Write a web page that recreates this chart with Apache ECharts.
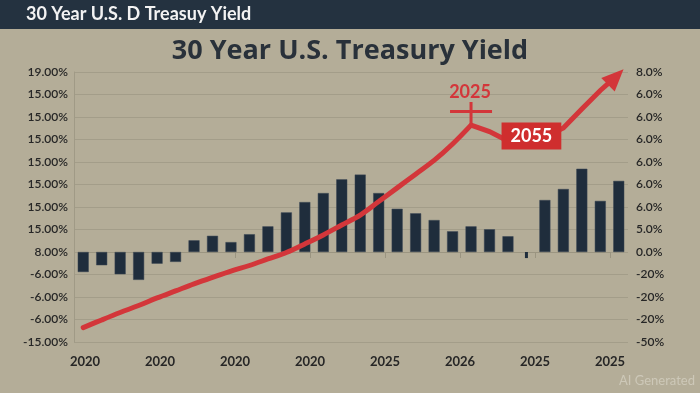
<!DOCTYPE html>
<html><head><meta charset="utf-8">
<script src="https://cdn.jsdelivr.net/npm/echarts@6/dist/echarts.min.js"></script>
<style>html,body{margin:0;padding:0;background:#b4ad98;}#c{width:700px;height:393px;}</style>
</head><body><div id="c"></div>
<script>
const headerText = '30 Year U.S. D Treasuy Yield';
const titleText = '30 Year U.S. Treasury Yield';
const watermarkText = 'AI Generated';
// tick labels, bottom to top
const leftTicks = ['-15.00%','-6.00%','-6.00%','-6.00%','8.00%','15.00%','15.00%','15.00%','15.00%','15.00%','15.00%','15.00%','19.00%'];
const rightTicks = ['-50%','-20%','-20%','-20%','0.0%','5.0%','6.0%','6.0%','6.0%','6.0%','6.0%','6.0%','8.0%'];
const xLabels = ['2020','2020','2020','2020','2025','2026','2025','2025'];
const categories = ['c1','c2','c3','c4','c5','c6','c7','c8','c9','c10','c11','c12','c13','c14','c15','c16','c17','c18','c19','c20','c21','c22','c23','c24','c25','c26','c27','c28','c29','c30'];
const barValues = [-0.89,-0.59,-0.99,-1.24,-0.52,-0.44,0.52,0.72,0.44,0.79,1.14,1.76,2.22,2.62,3.23,3.44,2.62,1.92,1.72,1.42,0.92,1.14,1.01,0.70,null,2.31,2.80,3.70,2.27,3.16];
const thinBarValues = [null,null,null,null,null,null,null,null,null,null,null,null,null,null,null,null,null,null,null,null,null,null,null,null,-0.27,null,null,null,null,null];
const lineValues = [-3.36,-3.02,-2.69,-2.38,-2.04,-1.73,-1.42,-1.13,-0.85,-0.60,-0.31,-0.02,0.36,0.76,1.20,1.64,2.24,2.85,3.46,4.07,4.80,5.64,5.35,4.93,4.84,5.11,5.51,6.36,7.18,7.91];
const peakIndex = 21, peakLabel = '2025';
const boxIndex = 24, boxLabel = '2055';
const yMin = -4, yMax = 8;

const RED = '#d3363a';
// rising curve up to the peak (smooth), then the straight zig-zag to the arrow
const curveData = lineValues.map(function (v, i) { return i <= peakIndex ? v : null; });
const tailData = lineValues.map(function (v, i) {
  if (i < peakIndex) return {value: null, symbol: 'none'};
  if (i === peakIndex) {
    return {value: v, symbol: 'path://M0,8L42,8L42,11L0,11Z M19.5,0L22.5,0L22.5,23L19.5,23Z',
      symbolSize: [42, 23], symbolOffset: [0, -11.5], itemStyle: {color: RED},
      label: {show: true, position: 'inside', offset: [-1, -21], formatter: peakLabel, color: RED,
        fontSize: 18, fontWeight: 'bold', fontFamily: 'Lato'}};
  }
  if (i === boxIndex) {
    return {value: v, symbol: 'circle', symbolSize: 1, itemStyle: {color: RED},
      label: {show: true, position: 'inside', offset: [5, -7], formatter: boxLabel, color: '#ffffff',
        backgroundColor: '#cf2e2e', padding: [5, 9, 4, 9], fontSize: 18, fontWeight: 'bold', fontFamily: 'Lato'}};
  }
  if (i === lineValues.length - 1) {
    return {value: v, symbol: 'triangle', symbolSize: [19, 22], symbolRotate: -45, symbolOffset: [-3, 3],
      itemStyle: {color: RED}};
  }
  return {value: v, symbol: 'none'};
});

const chart = echarts.init(document.getElementById('c'), null, {renderer: 'canvas'});
const labelColor = '#262626';
chart.setOption({
  backgroundColor: '#b4ad98',
  animation: false,
  textStyle: {fontFamily: 'Lato'},
  title: {text: titleText, left: 'center', top: 37, padding: 0,
    textStyle: {fontSize: 27, fontWeight: 'bold', color: '#29313a', fontFamily: 'Open Sans', lineHeight: 28}},
  graphic: [
    {type: 'rect', left: 0, top: 0, shape: {width: 700, height: 29}, style: {fill: '#243240'}},
    {type: 'text', left: 26, top: 5, style: {text: headerText, fill: '#f3f3f3', font: 'bold 18px Lato'}},
    {type: 'text', right: 5, top: 374, style: {text: watermarkText, fill: '#cdc8b8', font: '13px Lato'}}
  ],
  grid: [
    {left: 74, right: 72, top: 72, bottom: 51},
    {left: 85, right: 90, top: 72, bottom: 51}
  ],
  xAxis: [
    {type: 'category', gridIndex: 0, data: categories, axisLine: {show: false}, axisTick: {show: false}, axisLabel: {show: false}},
    {type: 'category', gridIndex: 1, data: xLabels, boundaryGap: false,
      axisLine: {show: true, lineStyle: {color: '#9b9581'}},
      axisTick: {show: true, length: 6, lineStyle: {color: '#9b9581'}},
      axisLabel: {fontSize: 13, fontWeight: 'bold', color: labelColor, margin: 13}},
    {type: 'category', gridIndex: 0, data: categories, show: false}
  ],
  yAxis: [
    {type: 'value', gridIndex: 0, min: yMin, max: yMax, interval: 1,
      axisLine: {show: true, lineStyle: {color: '#a09a86'}}, axisTick: {show: false},
      splitLine: {lineStyle: {color: '#a39d89'}},
      axisLabel: {formatter: function (v) { return leftTicks[Math.round(v - yMin)]; }, margin: 6, fontSize: 12, fontWeight: 600, color: labelColor}},
    {type: 'value', gridIndex: 0, position: 'right', min: yMin, max: yMax, interval: 1,
      axisLine: {show: false}, axisTick: {show: false}, splitLine: {show: false},
      axisLabel: {formatter: function (v) { return rightTicks[Math.round(v - yMin)]; }, margin: 8, fontSize: 12, fontWeight: 600, color: labelColor}},
    {type: 'value', gridIndex: 1, min: yMin, max: yMax, show: false}
  ],
  series: [
    {type: 'bar', xAxisIndex: 0, yAxisIndex: 0, data: barValues, barWidth: 11,
      itemStyle: {color: '#1f2d3c', borderColor: '#3a4654', borderWidth: 0.5}},
    {type: 'bar', xAxisIndex: 2, yAxisIndex: 0, data: thinBarValues, barWidth: 3,
      itemStyle: {color: '#1f2d3c'}},
    {type: 'line', xAxisIndex: 0, yAxisIndex: 0, data: curveData, showSymbol: false, smooth: 0.35, clip: false,
      lineStyle: {color: RED, width: 5, cap: 'round'}, itemStyle: {color: RED}, z: 5},
    {type: 'line', xAxisIndex: 0, yAxisIndex: 0, data: tailData, showSymbol: true, clip: false,
      lineStyle: {color: RED, width: 5, join: 'miter'}, itemStyle: {color: RED}, z: 5}
  ]
});
</script></body></html>
